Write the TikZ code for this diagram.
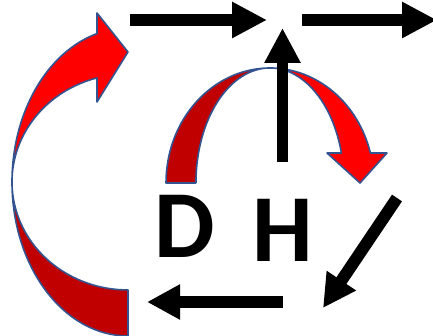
\documentclass[tikz,border=0pt]{standalone}
\usepackage{fontspec}
\setmainfont{Carlito}
\usetikzlibrary{arrows.meta}
\definecolor{darkred}{RGB}{192,0,0}
\definecolor{brightred}{RGB}{255,0,0}
\definecolor{edgeblue}{RGB}{52,84,145}
\begin{document}
\begin{tikzpicture}[x=1pt,y=1pt,
  blk/.style={line width=12pt,draw=black,-{Triangle[width=34pt,length=35pt]}},
  band/.style={draw=edgeblue,line width=1.6pt,line join=round},
  letter/.style={inner sep=0pt,anchor=base west,font=\fontsize{96}{96}\selectfont\bfseries}]
\useasboundingbox (0,0) rectangle (433,336);
% named coordinates
\coordinate (tla) at (130,316);
\coordinate (tlb) at (267,316);
\coordinate (tra) at (302,316);
\coordinate (trb) at (437,316);
\coordinate (upa) at (282.5,174);
\coordinate (upb) at (282.5,308);
\coordinate (dga) at (397,138);
\coordinate (dgb) at (323,28);
\coordinate (bta) at (283,34);
\coordinate (btb) at (147,34);
% big left curved arrow
\fill[darkred] (128,0) arc[start angle=270,end angle=180,x radius=116,y radius=154]
  arc[start angle=180,end angle=270,x radius=116,y radius=108] -- cycle;
\fill[brightred] (12,154) arc[start angle=180,end angle=105.5,x radius=116,y radius=154]
  -- (97,323) -- (128,284) -- (97,234) -- (97,258.1)
  arc[start angle=105.5,end angle=180,x radius=116,y radius=108] -- cycle;
\draw[band] (128,0) arc[start angle=270,end angle=105.5,x radius=116,y radius=154]
  -- (97,323) -- (128,284) -- (97,234) -- (97,258.1)
  arc[start angle=105.5,end angle=270,x radius=116,y radius=108] -- cycle;
% small arch arrow
\fill[darkred] (166,153) arc[start angle=180,end angle=90,x radius=104,y radius=115]
  arc[start angle=90,end angle=180,x radius=74,y radius=115] -- cycle;
\fill[brightred] (270,268) arc[start angle=90,end angle=15.1,x radius=104,y radius=115]
  -- (387,183) -- (360,153) -- (327,183) -- (341.4,183)
  arc[start angle=15.1,end angle=90,x radius=74,y radius=115] -- cycle;
\draw[band] (166,153) arc[start angle=180,end angle=15.1,x radius=104,y radius=115]
  -- (387,183) -- (360,153) -- (327,183) -- (341.4,183)
  arc[start angle=15.1,end angle=180,x radius=74,y radius=115] -- cycle;
% black arrows
\draw[blk] (tla) -- (tlb);
\draw[blk] (tra) -- (trb);
\draw[blk,line width=11pt] (upa) -- (upb);
\draw[blk,-{Triangle[width=33pt,length=33pt]}] (dga) -- (dgb);
\draw[blk,-{Triangle[width=33pt,length=33pt]}] (bta) -- (btb);
% letters
\node[letter] (D) at (154,78) {D};
\node[letter] (H) at (252,74) {H};
\end{tikzpicture}
\end{document}
